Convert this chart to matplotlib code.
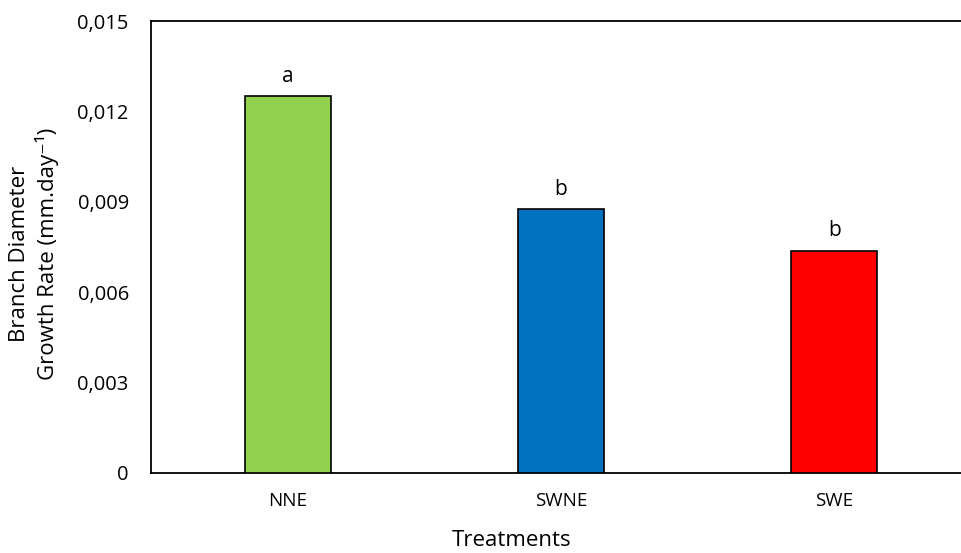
import matplotlib
matplotlib.use("Agg")
import matplotlib.pyplot as plt
from matplotlib.ticker import FixedLocator

treatments = ["NNE", "SWNE", "SWE"]
growth_rate = [0.0125, 0.00875, 0.00736]
letters = ["a", "b", "b"]
bar_colors = ["#92D050", "#0070C0", "#FF0000"]
y_ticks = [0, 0.003, 0.006, 0.009, 0.012, 0.015]
y_tick_labels = ["0", "0,003", "0,006", "0,009", "0,012", "0,015"]

plt.rcParams["font.family"] = ["Open Sans", "DejaVu Sans"]

fig = plt.figure(figsize=(9.61, 5.53), dpi=100)
ax = fig.add_axes([151 / 961, 1 - 473 / 553, (971 - 151) / 961, (473 - 21) / 553])

x = list(range(len(treatments)))
ax.bar(x, growth_rate, width=0.315, color=bar_colors,
       edgecolor="black", linewidth=1.2, zorder=3)
for xi, v, lab in zip(x, growth_rate, letters):
    ax.annotate(lab, (xi, v), xytext=(0, 7), textcoords="offset points",
                ha="center", va="bottom", fontsize=15)

ax.set_xlim(-0.5, 2.5)
ax.set_ylim(0, 0.015)
ax.yaxis.set_major_locator(FixedLocator(y_ticks))
ax.set_yticklabels(y_tick_labels, fontsize=14.5)
ax.set_xticks(x)
ax.set_xticklabels(treatments, fontsize=13.5)
ax.tick_params(axis="x", length=0, pad=14)
ax.tick_params(axis="y", length=0, pad=16)

for s in ["left", "top", "bottom"]:
    ax.spines[s].set_linewidth(1.3)
ax.spines["right"].set_visible(False)

fig.text(34 / 961, 1 - 254 / 553, "Branch Diameter\nGrowth Rate (mm.day\u207b\u00b9)",
         rotation=90, ha="center", va="center", fontsize=16, linespacing=1.3)
fig.text(512 / 961, 1 - 541 / 553, "Treatments", ha="center", va="center",
         fontsize=16)

fig.savefig("out.png", dpi=100)
